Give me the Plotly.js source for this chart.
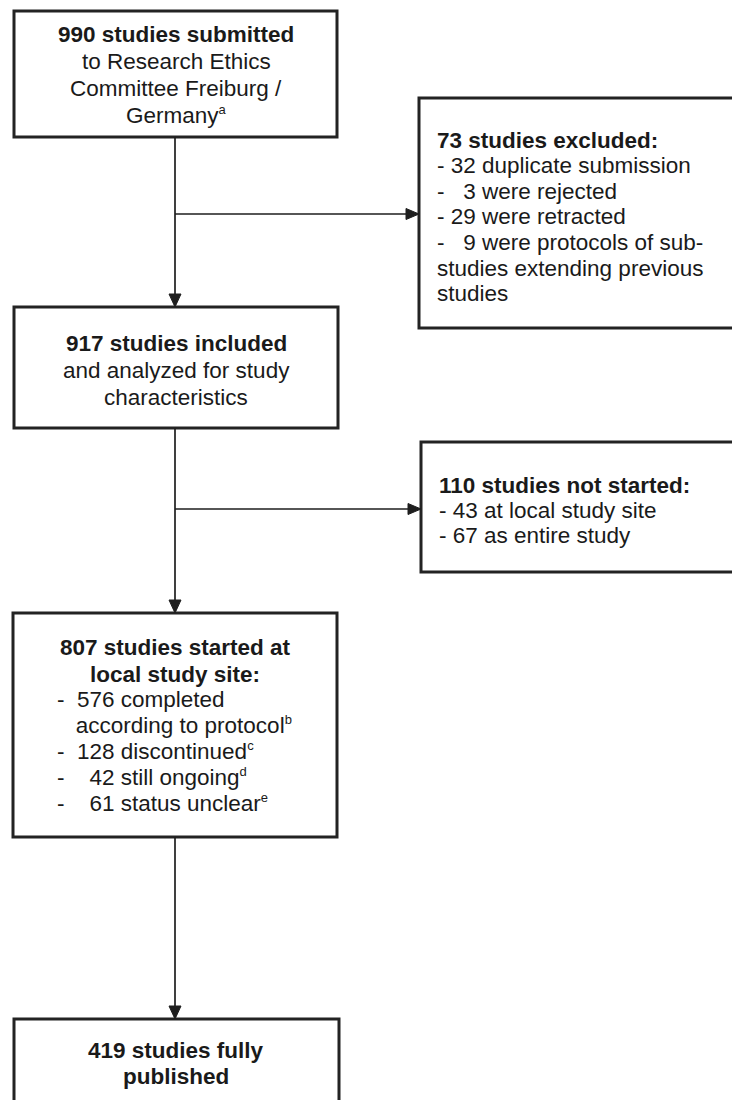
<!DOCTYPE html>
<html>
<head>
<meta charset="utf-8">
<script src="https://cdn.plot.ly/plotly-3.0.1.min.js"></script>
<style>
  html, body { margin: 0; padding: 0; background: #ffffff; }
  #chart { width: 732px; height: 1100px; }
</style>
</head>
<body>
<div id="chart"></div>
<script>
// ---- Flowchart content (text only) ----
const NB = '\u00a0';
const submittedLines = ['<b>990 studies submitted</b>', 'to Research Ethics', 'Committee Freiburg /', 'Germany<sup>a</sup>'];
const excludedLines = ['<b>73 studies excluded:</b>', '- 32 duplicate submission', '-' + NB + NB + NB + '3 were rejected', '- 29 were retracted',
  '-' + NB + NB + NB + '9 were protocols of sub-', 'studies extending previous', 'studies'];
const includedLines = ['<b>917 studies included</b>', 'and analyzed for study', 'characteristics'];
const notStartedLines = ['<b>110 studies not started:</b>', '- 43 at local study site', '- 67 as entire study'];
const startedHeadLines = ['<b>807 studies started at</b>', '<b>local study site:</b>'];
const startedListLines = ['-' + NB + NB + '576 completed', NB + NB + NB + 'according to protocol<sup>b</sup>',
  '-' + NB + NB + '128 discontinued<sup>c</sup>', '-' + NB + NB + NB + NB + '42 still ongoing<sup>d</sup>',
  '-' + NB + NB + NB + NB + '61 status unclear<sup>e</sup>'];
const publishedLines = ['<b>419 studies fully</b>', '<b>published</b>'];

// ---- Layout geometry (pixel space of the 732x1100 canvas) ----
const FONT = {family: '"Liberation Sans", Arial, Helvetica, sans-serif', size: 22.5, color: '#1a1a1a'};
const BORDER = {color: '#232323', width: 3};
const LINE = {color: '#1e1e1e', width: 1.7};
const spineX = 175;

const boxes = [
  {x0: 14, x1: 337, y0: 11, y1: 137},
  {x0: 419, x1: 750, y0: 98, y1: 328},
  {x0: 14, x1: 338, y0: 307, y1: 428},
  {x0: 421, x1: 750, y0: 442, y1: 572},
  {x0: 13, x1: 337, y0: 613, y1: 837},
  {x0: 14, x1: 339, y0: 1019, y1: 1115}
];

const textBlocks = [
  {lines: submittedLines, x: 176, y: 34, lh: 27, anchor: 'center'},
  {lines: excludedLines, x: 436, y: 140, lh: 25.6, anchor: 'left'},
  {lines: includedLines, x: 176, y: 343, lh: 27, anchor: 'center'},
  {lines: notStartedLines, x: 438, y: 485, lh: 25, anchor: 'left'},
  {lines: startedHeadLines, x: 175, y: 647, lh: 27, anchor: 'center'},
  {lines: startedListLines, x: 56, y: 699, lh: 26, anchor: 'left'},
  {lines: publishedLines, x: 176, y: 1050, lh: 26, anchor: 'center'}
];

const vArrows = [[137, 307], [428, 613], [837, 1019]];
const hArrows = [[214, 419], [509, 421]];

const shapes = [];
boxes.forEach(b => shapes.push({type: 'rect', xref: 'x', yref: 'y', x0: b.x0, x1: b.x1, y0: b.y0, y1: b.y1,
  line: BORDER, fillcolor: 'rgba(0,0,0,0)', layer: 'above'}));

const AH = 13, AW = 6;
vArrows.forEach(([a, b]) => {
  shapes.push({type: 'line', xref: 'x', yref: 'y', x0: spineX, x1: spineX, y0: a, y1: b - AH + 1, line: LINE});
  shapes.push({type: 'path', xref: 'x', yref: 'y',
    path: `M ${spineX} ${b} L ${spineX - AW} ${b - AH} L ${spineX + AW} ${b - AH} Z`,
    fillcolor: '#1e1e1e', line: {color: '#1e1e1e', width: 1}});
});
hArrows.forEach(([y, xe]) => {
  shapes.push({type: 'line', xref: 'x', yref: 'y', x0: spineX, x1: xe - AH + 1, y0: y, y1: y, line: LINE});
  shapes.push({type: 'path', xref: 'x', yref: 'y',
    path: `M ${xe} ${y} L ${xe - AH} ${y - 5.5} L ${xe - AH} ${y + 5.5} Z`,
    fillcolor: '#1e1e1e', line: {color: '#1e1e1e', width: 1}});
});

// smaller superscript letters, as in the reference
const styleSup = t => t.replace(/<sup>(.*?)<\/sup>/g, '<sup><span style="font-size:13px">$1</span></sup>');

const annotations = [];
textBlocks.forEach(tb => {
  tb.lines.forEach((t, i) => {
    annotations.push({xref: 'x', yref: 'y', x: tb.x, y: tb.y + i * tb.lh, text: styleSup(t), showarrow: false,
      xanchor: tb.anchor, yanchor: 'middle', align: tb.anchor, borderpad: 0, font: FONT});
  });
});

const layout = {
  width: 732, height: 1100,
  margin: {l: 0, r: 0, t: 0, b: 0, pad: 0},
  paper_bgcolor: '#ffffff', plot_bgcolor: '#ffffff',
  showlegend: false,
  xaxis: {range: [0, 732], visible: false, fixedrange: true},
  yaxis: {range: [1100, 0], visible: false, fixedrange: true},
  shapes: shapes,
  annotations: annotations
};

Plotly.newPlot('chart', [{x: [], y: [], type: 'scatter', mode: 'markers', hoverinfo: 'skip'}], layout, {staticPlot: true, displayModeBar: false});
</script>
</body>
</html>
